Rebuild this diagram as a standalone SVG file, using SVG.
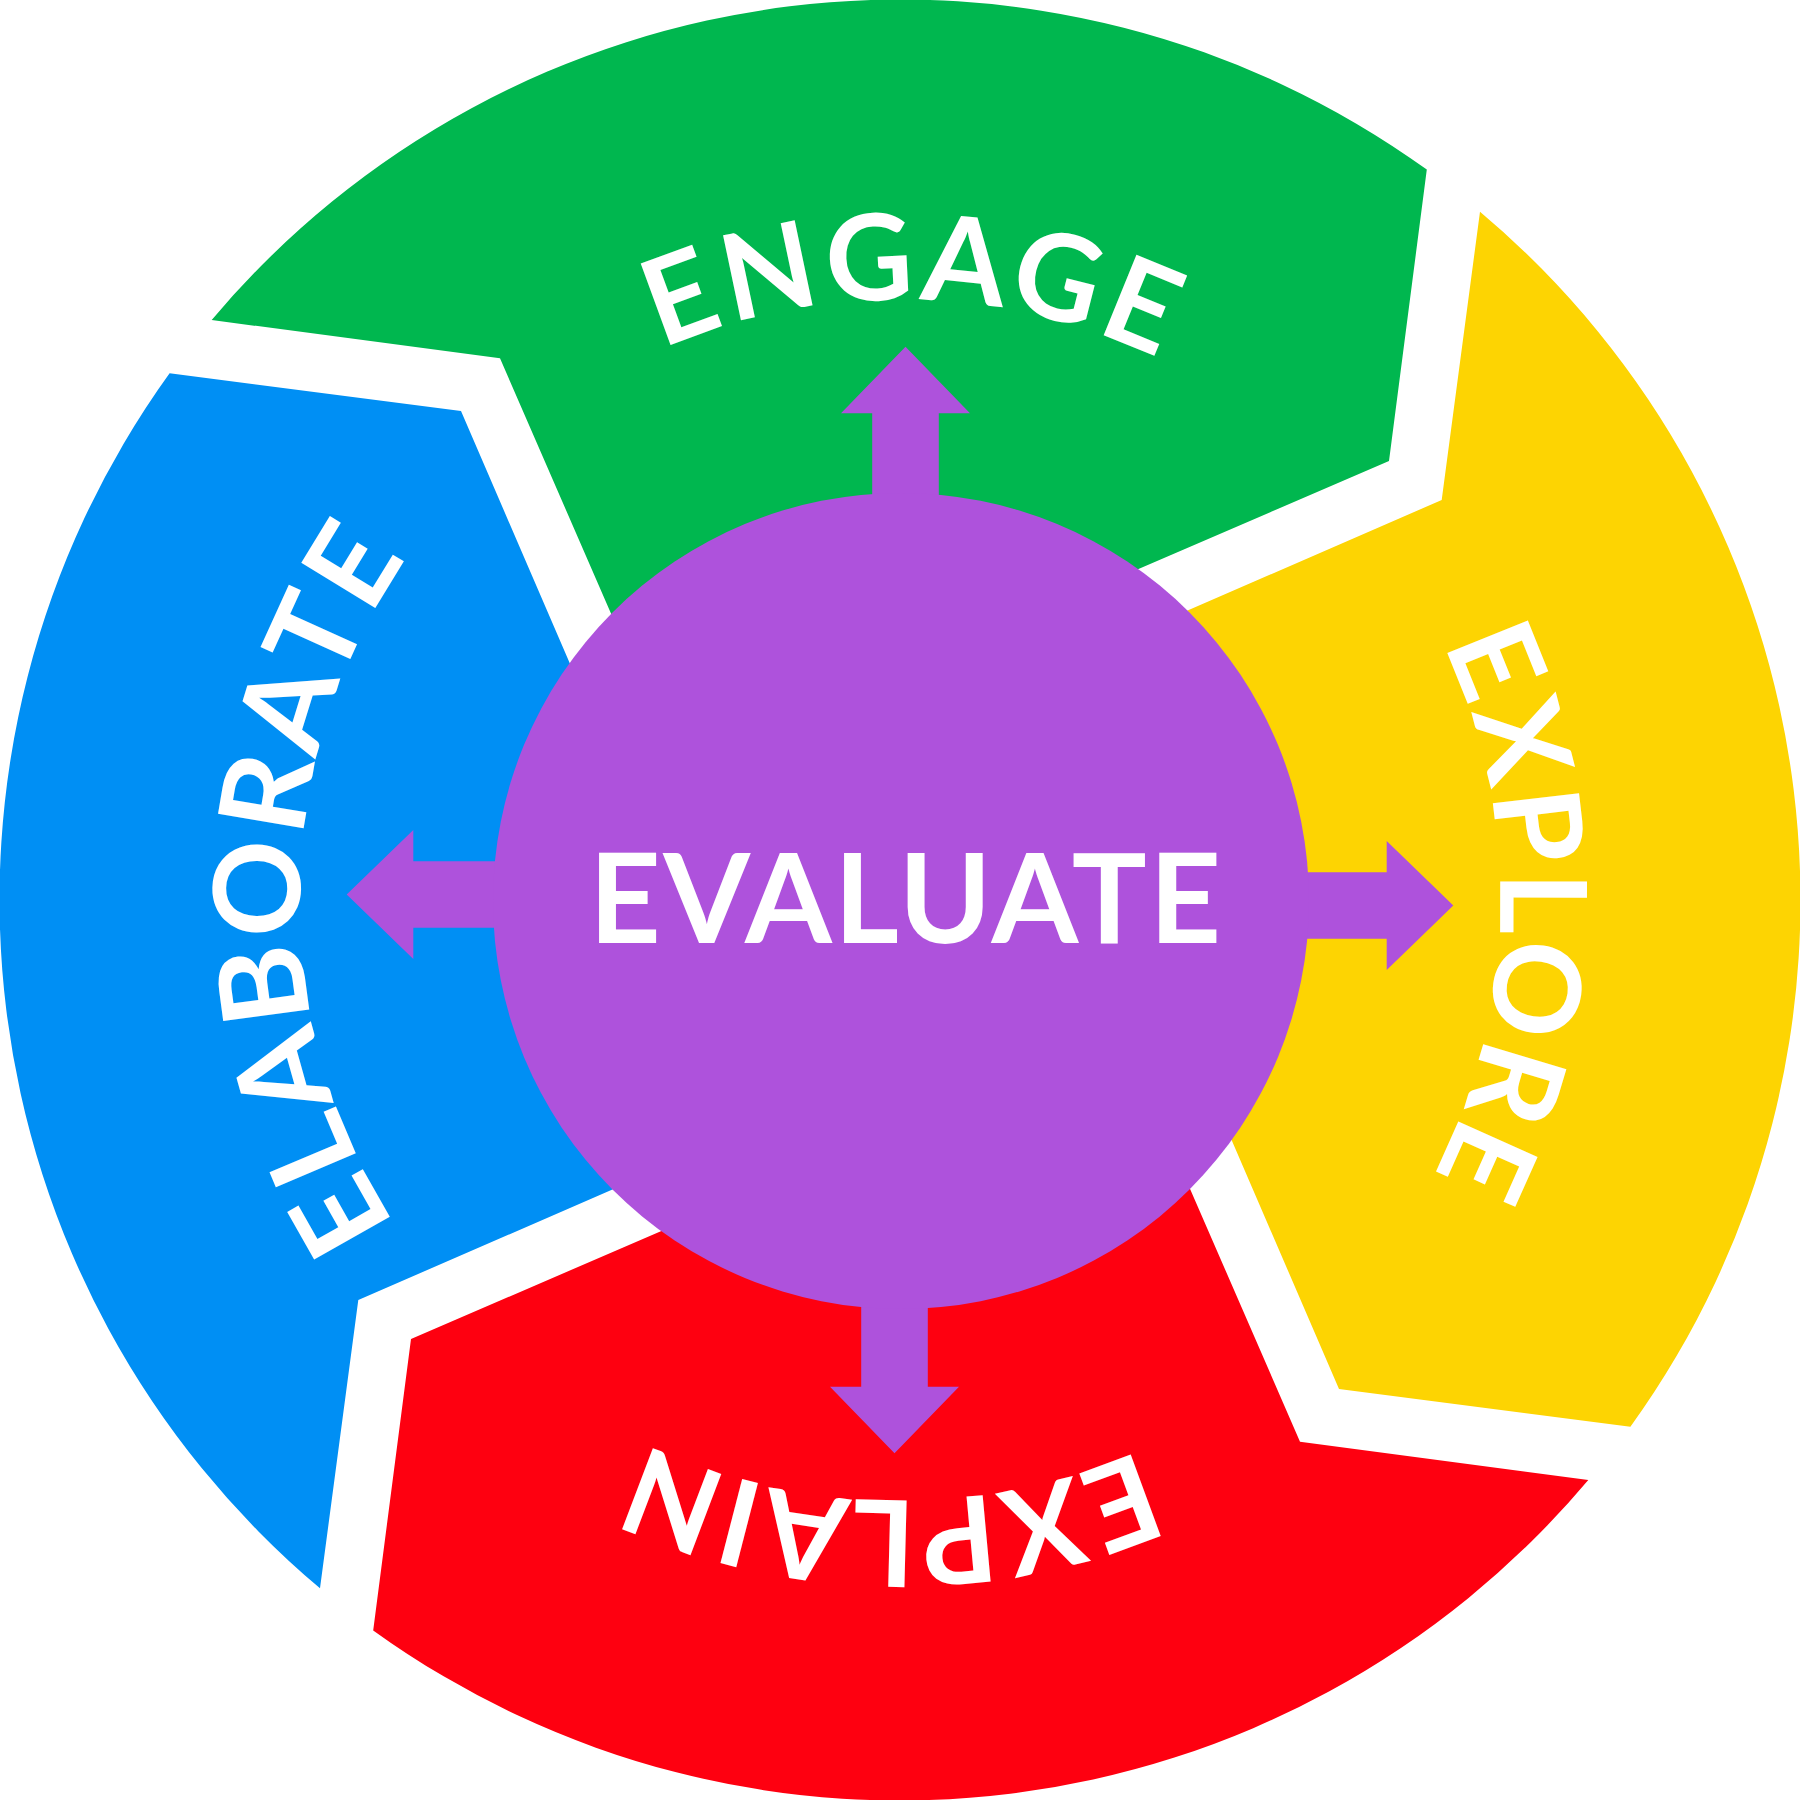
<svg xmlns="http://www.w3.org/2000/svg" xmlns:xlink="http://www.w3.org/1999/xlink" width="1800" height="1800" viewBox="0 0 1800 1800">
<defs>
<style>
.lbl{font-family:Lato,"Open Sans","Liberation Sans",sans-serif;font-weight:700;fill:#ffffff;font-size:120px}
.center{font-family:Lato,"Open Sans","Liberation Sans",sans-serif;font-weight:700;fill:#ffffff;font-size:125px}
.arrow{fill:#AE52DC}
</style>
<path id="seg" d="M211.7,320 A900,900 0 0 1 1426.8,169.6 L1389,461 L678,767.6 L500,358.3 Z"/>
<polygon id="arw" points="872.2,620 872.2,413.3 841,413.3 905.5,346.7 970,413.3 938.8,413.3 938.8,620"/>
<path id="pEngage" d="M311.1,785 A600,600 0 0 1 1492.7,806.7"/>
<path id="pExplore" d="M1015,311.1 A600,600 0 0 1 993.3,1492.7"/>
<path id="pExplain" d="M1489.3,1012.9 A600,600 0 0 1 307.6,995.4"/>
<path id="pElaborate" d="M785.5,1489 A600,600 0 0 1 806.1,307.4"/>
</defs>
<rect width="1800" height="1800" fill="#ffffff"/>
<g id="engage">
<use xlink:href="#seg" fill="#00B74F"/>
</g>
<g id="explore">
<use xlink:href="#seg" fill="#FDD402" transform="rotate(90 900 900)"/>
</g>
<g id="explain">
<use xlink:href="#seg" fill="#FE0010" transform="rotate(180 900 900)"/>
</g>
<g id="elaborate">
<use xlink:href="#seg" fill="#008FF4" transform="rotate(270 900 900)"/>
</g>
<g id="connectors" class="arrow">
<use xlink:href="#arw"/>
<use xlink:href="#arw" transform="rotate(90 900 900)"/>
<use xlink:href="#arw" transform="rotate(180 900 900)"/>
<use xlink:href="#arw" transform="rotate(270 900 900)"/>
</g>
<g id="evaluate">
<circle cx="901" cy="901" r="408" fill="#AE52DC"/>
<text class="center" x="905" y="943.3" text-anchor="middle" textLength="632" lengthAdjust="spacing">EVALUATE</text>
</g>
<g id="labels">
<text class="lbl" text-anchor="middle"><textPath xlink:href="#pEngage" startOffset="50%" textLength="512" lengthAdjust="spacing">ENGAGE</textPath></text>
<text class="lbl" text-anchor="middle"><textPath xlink:href="#pExplore" startOffset="50%" textLength="550" lengthAdjust="spacing">EXPLORE</textPath></text>
<text class="lbl" text-anchor="middle"><textPath xlink:href="#pExplain" startOffset="50%" textLength="510" lengthAdjust="spacing">EXPLAIN</textPath></text>
<text class="lbl" text-anchor="middle"><textPath xlink:href="#pElaborate" startOffset="50%" textLength="707" lengthAdjust="spacing">ELABORATE</textPath></text>
</g>
</svg>
